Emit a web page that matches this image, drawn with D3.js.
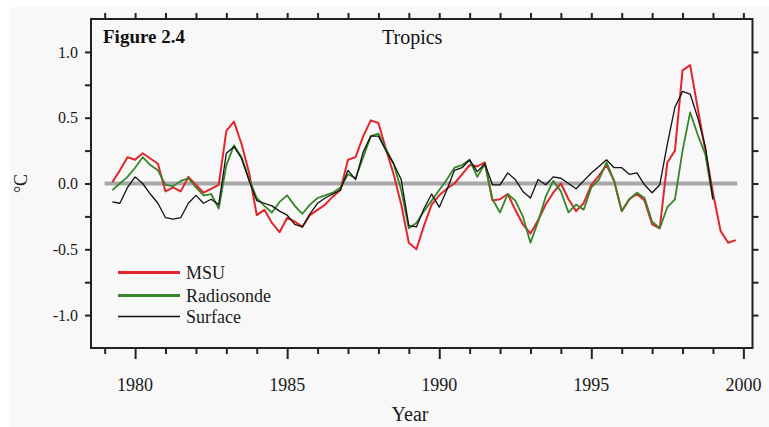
<!DOCTYPE html>
<html>
<head>
<meta charset="utf-8">
<script src="https://cdn.jsdelivr.net/npm/d3@7"></script>
<style>
  body { margin: 0; background: #fff; }
  svg { display: block; }
</style>
</head>
<body>
<div id="chart"></div>
<script>
// quarterly samples, 1979.25 .. 1999.75
const years = d3.range(83).map(i => 1979.25 + i * 0.25);

const msu = [
   0.01,  0.10,  0.20,
   0.18,  0.23,  0.19,  0.15,
  -0.06, -0.03, -0.06,  0.05,
  -0.01, -0.07, -0.04, -0.01,
   0.40,  0.47,  0.30,  0.08,
  -0.24, -0.20, -0.30, -0.37,
  -0.26, -0.29, -0.33, -0.24,
  -0.20, -0.16, -0.10, -0.05,
   0.18,  0.20,  0.36,  0.48,
   0.46,  0.26,  0.07, -0.16,
  -0.45, -0.50, -0.32, -0.16,
  -0.09, -0.04,  0.00,  0.07,
   0.14,  0.13,  0.16, -0.13,
  -0.12, -0.08, -0.20, -0.31,
  -0.38, -0.28, -0.16, -0.07,
   0.00, -0.12, -0.21, -0.15,
  -0.01,  0.06,  0.14,  0.02,
  -0.21, -0.12, -0.08, -0.13,
  -0.31, -0.34,  0.16,  0.25,
   0.86,  0.90,  0.57,  0.25,
  -0.07, -0.36, -0.45, -0.43
];

const radiosonde = [
  -0.05,  0.00,  0.05,
   0.12,  0.20,  0.14,  0.10,
  -0.01, -0.02,  0.02,  0.04,
  -0.03, -0.09, -0.08, -0.19,
   0.14,  0.29,  0.20,  0.03,
  -0.11, -0.17, -0.22, -0.14,
  -0.09, -0.17, -0.23, -0.16,
  -0.11, -0.09, -0.07, -0.03,
   0.07,  0.04,  0.20,  0.36,
   0.38,  0.26,  0.15, -0.05,
  -0.34, -0.30, -0.21, -0.13,
  -0.05,  0.03,  0.12,  0.14,
   0.18,  0.05,  0.15, -0.12,
  -0.22, -0.08, -0.13, -0.25,
  -0.45, -0.29, -0.10,  0.02,
  -0.06, -0.22, -0.16, -0.20,
  -0.03,  0.03,  0.16,  0.02,
  -0.21, -0.12, -0.07, -0.11,
  -0.29, -0.34, -0.18, -0.12,
   0.25,  0.54,  0.37,  0.22,
  -0.12,  null,  null,  null
];

const surface = [
  -0.14, -0.15, -0.03,
   0.05,  0.00, -0.08, -0.15,
  -0.26, -0.27, -0.26, -0.15,
  -0.09, -0.15, -0.12, -0.16,
   0.23,  0.28,  0.19,  0.02,
  -0.13, -0.15, -0.17, -0.21,
  -0.24, -0.31, -0.33, -0.23,
  -0.15, -0.11, -0.08, -0.05,
   0.10,  0.03,  0.24,  0.36,
   0.36,  0.25,  0.15,  0.03,
  -0.32, -0.33, -0.19, -0.08,
  -0.18, -0.05,  0.10,  0.12,
   0.18,  0.09,  0.15, -0.01,
  -0.01,  0.08,  0.03, -0.06,
  -0.11,  0.03, -0.01,  0.05,
   0.04,  0.00, -0.04,  0.02,
   0.08,  0.13,  0.18,  0.12,
   0.12,  0.07,  0.08, -0.01,
  -0.07, -0.01,  0.30,  0.58,
   0.70,  0.68,  0.50,  0.28,
  -0.12,  null,  null,  null
];

const yearTicks = d3.range(1979, 2001);
const yearLabels = [1980, 1985, 1990, 1995, 2000];
const valueTicks = [1.0, 0.75, 0.5, 0.25, 0, -0.25, -0.5, -0.75, -1.0];
const valueLabels = [1.0, 0.5, 0, -0.5, -1.0];
const valueLabelText = ["1.0", "0.5", "0.0", "-0.5", "-1.0"];

const series = [
  {name: "MSU", values: msu, color: "#e3262b", width: 2},
  {name: "Radiosonde", values: radiosonde, color: "#368529", width: 1.8},
  {name: "Surface", values: surface, color: "#111", width: 1.3}
];

const W = 769, H = 427;
const font = "'Liberation Serif', 'Times New Roman', serif";

const x = d3.scaleLinear().domain([1978.55, 2000.3]).range([91, 752.5]);
const y = d3.scaleLinear().domain([-1.25, 1.25]).range([348, 19]);

const svg = d3.select("#chart").append("svg")
    .attr("width", W)
    .attr("height", H)
    .attr("font-family", font);

svg.append("rect").attr("width", W).attr("height", H).attr("fill", "#fff");
svg.append("rect").attr("x", 10).attr("y", 7).attr("width", W - 10).attr("height", H - 7).attr("fill", "#f8f8f8");

const [x0, x1] = x.range();
const [y0, y1] = y.range();

// zero line
svg.append("line")
    .attr("x1", x(1979)).attr("x2", x(1999.8))
    .attr("y1", y(0)).attr("y2", y(0))
    .attr("stroke", "#a8a8a8")
    .attr("stroke-width", 4);

// series
const line = d3.line()
    .defined(d => d[1] != null)
    .x(d => x(d[0]))
    .y(d => y(d[1]));

series.forEach(s => {
    svg.append("path")
        .datum(years.map((t, i) => [t, s.values[i]]))
        .attr("fill", "none")
        .attr("stroke", s.color)
        .attr("stroke-width", s.width)
        .attr("stroke-linejoin", "round")
        .attr("d", line);
});

// frame
svg.append("rect")
    .attr("x", x0).attr("y", y1)
    .attr("width", x1 - x0).attr("height", y0 - y1)
    .attr("fill", "none")
    .attr("stroke", "#222")
    .attr("stroke-width", 2);

// bottom axis
const bottom = d3.axisBottom(x)
    .tickValues(yearTicks)
    .tickSize(0)
    .tickFormat("");
const gb = svg.append("g").attr("transform", `translate(0,${y0})`).call(bottom);
gb.select(".domain").remove();
gb.selectAll(".tick line")
    .attr("y2", d => yearLabels.includes(d) ? 11 : 6)
    .attr("stroke", "#222").attr("stroke-width", 2);

svg.append("g").selectAll("text")
    .data(yearLabels)
    .join("text")
    .attr("x", d => x(d))
    .attr("y", 391)
    .attr("text-anchor", "middle")
    .attr("font-size", 18)
    .attr("fill", "#1a1a1a")
    .text(d => d);

// top axis
const gt = svg.append("g").attr("transform", `translate(0,${y1})`)
    .call(d3.axisTop(x).tickValues(yearTicks).tickSize(6).tickFormat(""));
gt.select(".domain").remove();
gt.selectAll(".tick line").attr("stroke", "#222").attr("stroke-width", 2);

// left axis
const gl = svg.append("g").attr("transform", `translate(${x0},0)`)
    .call(d3.axisLeft(y).tickValues(valueTicks).tickSize(6).tickFormat(""));
gl.select(".domain").remove();
gl.selectAll(".tick line").attr("stroke", "#222").attr("stroke-width", 2);

svg.append("g").selectAll("text")
    .data(valueLabels)
    .join("text")
    .attr("x", 78)
    .attr("y", d => y(d))
    .attr("dy", "0.35em")
    .attr("text-anchor", "end")
    .attr("font-size", 16)
    .attr("fill", "#1a1a1a")
    .text((d, i) => valueLabelText[i]);

// right axis
const gr = svg.append("g").attr("transform", `translate(${x1},0)`)
    .call(d3.axisRight(y).tickValues(valueTicks.filter(v => v !== 0.75)).tickSize(6).tickFormat(""));
gr.select(".domain").remove();
gr.selectAll(".tick line").attr("stroke", "#222").attr("stroke-width", 2);

// titles
svg.append("text")
    .attr("x", 103).attr("y", 43)
    .attr("font-size", 19).attr("font-weight", "bold")
    .attr("fill", "#111")
    .text("Figure 2.4");

svg.append("text")
    .attr("x", 382).attr("y", 44)
    .attr("font-size", 20)
    .attr("fill", "#111")
    .text("Tropics");

svg.append("text")
    .attr("transform", `translate(27,${y(0)}) rotate(-90)`)
    .attr("text-anchor", "middle")
    .attr("font-size", 18)
    .attr("fill", "#1a1a1a")
    .text("°C");

svg.append("text")
    .attr("x", 410).attr("y", 421)
    .attr("text-anchor", "middle")
    .attr("font-size", 20)
    .attr("fill", "#1a1a1a")
    .text("Year");

// legend
const legendY = [272.5, 295.5, 316.5];
const lg = svg.append("g");
series.forEach((s, i) => {
    lg.append("line")
        .attr("x1", 118).attr("x2", 180)
        .attr("y1", legendY[i]).attr("y2", legendY[i])
        .attr("stroke", s.color)
        .attr("stroke-width", i === 2 ? 1.5 : 3);
    lg.append("text")
        .attr("x", 186).attr("y", legendY[i])
        .attr("dy", "0.35em")
        .attr("font-size", 18)
        .attr("fill", "#1a1a1a")
        .text(s.name);
});
</script>
</body>
</html>
